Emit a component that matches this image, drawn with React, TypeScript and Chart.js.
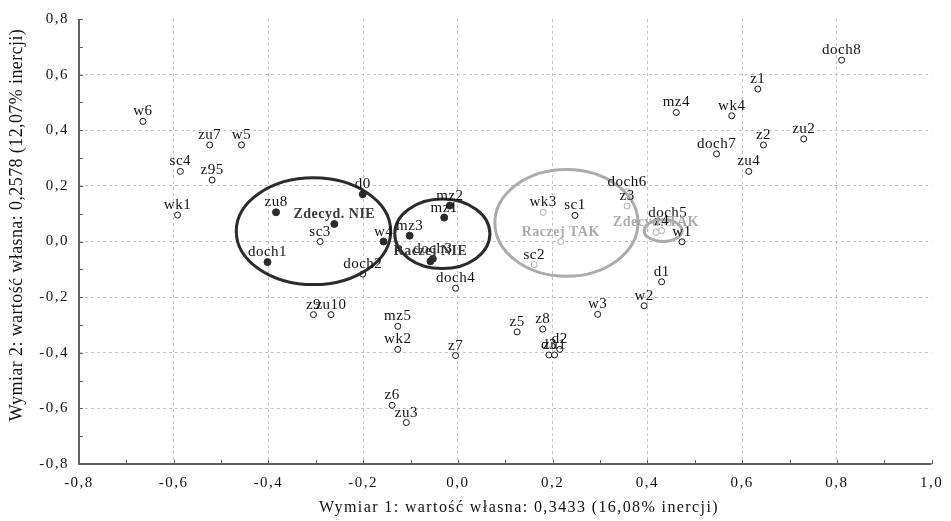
import React, { useEffect, useRef } from "react";
import { Chart, registerables } from "chart.js";

Chart.register(...registerables);

const FONT = "'Liberation Serif', 'Times New Roman', serif";
const DARK = "#2b2b2b";
const GRAY = "#ababab";

// Column categories drawn as open black circles
const openNames = [
  "w6", "zu7", "w5", "sc4", "z95", "wk1", "sc3", "doch2", "doch4", "z9", "zu10",
  "mz5", "wk2", "z7", "z6", "zu3", "z5", "z8", "d3", "zu1", "d2", "w3", "w2",
  "d1", "w1", "sc1", "doch8", "z1", "wk4", "mz4", "z2", "zu2", "doch7", "zu4",
];
const openX = [
  -0.665, -0.524, -0.457, -0.586, -0.519, -0.592, -0.291, -0.201, -0.005, -0.305, -0.268,
  -0.127, -0.127, -0.005, -0.139, -0.109, 0.125, 0.179, 0.192, 0.204, 0.215, 0.295, 0.393,
  0.43, 0.473, 0.247, 0.81, 0.633, 0.578, 0.461, 0.645, 0.73, 0.546, 0.614,
];
const openY = [
  0.432, 0.347, 0.347, 0.252, 0.221, 0.095, 0.0, -0.117, -0.168, -0.263, -0.263,
  -0.305, -0.388, -0.41, -0.589, -0.651, -0.325, -0.315, -0.408, -0.408, -0.388, -0.262, -0.231,
  -0.145, -0.001, 0.094, 0.652, 0.548, 0.452, 0.464, 0.347, 0.369, 0.315, 0.252,
];

// Column categories drawn as open grey circles
const grayNames = ["wk3", "sc2", "doch6", "z3", "z4", "doch5"];
const grayX = [0.18, 0.161, 0.357, 0.357, 0.43, 0.443];
const grayY = [0.105, -0.083, 0.179, 0.127, 0.039, 0.066];

// Column categories drawn as filled circles
const filledNames = ["zu8", "doch1", "d0", "w4", "mz3", "mz2", "mz1", "doch3"];
const filledX = [-0.384, -0.402, -0.201, -0.157, -0.102, -0.017, -0.029, -0.053];
const filledY = [0.105, -0.074, 0.17, 0.0, 0.021, 0.129, 0.086, -0.062];

// Row categories (answers)
const answerDarkNames = ["Zdecyd. NIE", "Raczej NIE"];
const answerDarkX = [-0.261, -0.058];
const answerDarkY = [0.063, -0.071];
const answerGrayNames = ["Raczej TAK", "Zdecyd. TAK"];
const answerGrayX = [0.217, 0.418];
const answerGrayY = [0.0, 0.033];

// Groupings around the answers: centre and radii in axis units
const ringCx = [-0.305, -0.033, 0.229, 0.433];
const ringCy = [0.037, 0.0275, 0.067, 0.039];
const ringRx = [0.163, 0.1005, 0.151, 0.04];
const ringRy = [0.192, 0.125, 0.192, 0.039];
const ringColor = [DARK, DARK, GRAY, GRAY];

const xTitle = "Wymiar 1: wartość własna: 0,3433 (16,08% inercji)";
const yTitle = "Wymiar 2: wartość własna: 0,2578 (12,07% inercji)";

const toPoints = (xs: number[], ys: number[]) => xs.map((x, i) => ({ x, y: ys[i] }));
const fmt = (v: number) => (Math.abs(v) < 1e-9 ? "0,0" : v.toFixed(1).replace(".", ","));

const decor = {
  id: "decor",
  beforeDraw(chart: any) {
    // loose spacing for the tick labels
    chart.ctx.letterSpacing = "1.5px";
  },
  beforeDatasetsDraw(chart: any) {
    const { ctx, chartArea: a, scales } = chart;
    ctx.letterSpacing = "0px";
    const xs = scales.x;
    const ys = scales.y;
    ctx.save();
    ctx.strokeStyle = "#5f5f5f";
    ctx.lineWidth = 2;
    ctx.beginPath();
    ctx.moveTo(a.left, a.top);
    ctx.lineTo(a.left, a.bottom);
    ctx.lineTo(a.right, a.bottom);
    ctx.stroke();
    ctx.lineWidth = 1;
    // inward ticks every 0.1
    for (let i = -8; i <= 10; i++) {
      const px = Math.round(xs.getPixelForValue(i / 10)) + 0.5;
      ctx.beginPath();
      ctx.moveTo(px, a.bottom);
      ctx.lineTo(px, a.bottom - 4);
      ctx.stroke();
    }
    for (let i = -8; i <= 8; i++) {
      const py = Math.round(ys.getPixelForValue(i / 10)) + 0.5;
      ctx.beginPath();
      ctx.moveTo(a.left, py);
      ctx.lineTo(a.left + 4, py);
      ctx.stroke();
    }
    ctx.restore();
  },
  afterDatasetsDraw(chart: any) {
    const { ctx, scales } = chart;
    const xs = scales.x;
    const ys = scales.y;
    ctx.save();
    ctx.lineWidth = 3;
    ringCx.forEach((cx, i) => {
      const px = xs.getPixelForValue(cx);
      const py = ys.getPixelForValue(ringCy[i]);
      const rx = Math.abs(xs.getPixelForValue(cx + ringRx[i]) - px);
      const ry = Math.abs(ys.getPixelForValue(ringCy[i] + ringRy[i]) - py);
      ctx.strokeStyle = ringColor[i];
      ctx.beginPath();
      ctx.ellipse(px, py, rx, ry, 0, 0, Math.PI * 2);
      ctx.stroke();
    });
    ctx.textAlign = "center";
    ctx.textBaseline = "alphabetic";
    ctx.letterSpacing = "0.5px";
    chart.data.datasets.forEach((ds: any, di: number) => {
      const meta = chart.getDatasetMeta(di);
      ctx.font = ds.labelFont;
      ctx.fillStyle = ds.labelColor;
      meta.data.forEach((el: any, j: number) => {
        ctx.fillText(ds.names[j], el.x, el.y - 6);
      });
    });
    ctx.restore();
  },
  afterDraw(chart: any) {
    const { ctx } = chart;
    ctx.save();
    ctx.fillStyle = "#111";
    ctx.textAlign = "center";
    ctx.textBaseline = "middle";
    ctx.font = `16px ${FONT}`;
    ctx.letterSpacing = "1.4px";
    ctx.fillText(xTitle, 519, 508);
    ctx.translate(17, 225);
    ctx.rotate(-Math.PI / 2);
    ctx.font = `18px ${FONT}`;
    ctx.letterSpacing = "0.4px";
    ctx.fillText(yTitle, 0, 0);
    ctx.restore();
    ctx.letterSpacing = "0px";
  },
};

const gridColor = (edgeA: number, edgeB: number) => (c: any) => {
  const v = c.tick ? c.tick.value : 0;
  if (Math.abs(v - edgeA) < 1e-6 || Math.abs(v - edgeB) < 1e-6) return "rgba(0,0,0,0)";
  return "#c4c4c4";
};

export default function App() {
  const ref = useRef<HTMLCanvasElement | null>(null);

  useEffect(() => {
    document.body.style.margin = "0";
    const canvas = ref.current;
    if (!canvas) return;
    const labelFont = `15px ${FONT}`;
    const boldFont = `bold 14px ${FONT}`;
    const chart = new Chart(canvas, {
      type: "scatter",
      data: {
        datasets: [
          {
            names: openNames,
            labelFont,
            labelColor: "#111",
            data: toPoints(openX, openY),
            pointRadius: 3,
            pointBackgroundColor: "#ffffff",
            pointBorderColor: "#111",
            pointBorderWidth: 1,
          },
          {
            names: grayNames,
            labelFont,
            labelColor: "#111",
            data: toPoints(grayX, grayY),
            pointRadius: 3,
            pointBackgroundColor: "#ffffff",
            pointBorderColor: GRAY,
            pointBorderWidth: 1,
          },
          {
            names: filledNames,
            labelFont,
            labelColor: "#111",
            data: toPoints(filledX, filledY),
            pointRadius: 3.5,
            pointBackgroundColor: DARK,
            pointBorderColor: DARK,
            pointBorderWidth: 1,
          },
          {
            names: answerDarkNames,
            labelFont: boldFont,
            labelColor: "#3a3a3a",
            data: toPoints(answerDarkX, answerDarkY),
            pointRadius: 3.5,
            pointBackgroundColor: DARK,
            pointBorderColor: DARK,
            pointBorderWidth: 1,
          },
          {
            names: answerGrayNames,
            labelFont: boldFont,
            labelColor: GRAY,
            data: toPoints(answerGrayX, answerGrayY),
            pointRadius: 3,
            pointBackgroundColor: "#ffffff",
            pointBorderColor: GRAY,
            pointBorderWidth: 1,
          },
        ] as any,
      },
      options: {
        animation: false,
        responsive: false,
        devicePixelRatio: 1,
        events: [],
        layout: { padding: { left: 0, top: 16, right: 12, bottom: 0 } },
        plugins: { legend: { display: false }, tooltip: { enabled: false } },
        scales: {
          x: {
            type: "linear",
            min: -0.8,
            max: 1.0,
            afterFit: (s: any) => {
              s.height = 57;
            },
            ticks: {
              stepSize: 0.2,
              autoSkip: false,
              maxRotation: 0,
              padding: 10,
              color: "#111",
              font: { family: FONT, size: 15 },
              callback: (v: any) => fmt(Number(v)),
            },
            grid: { drawTicks: false, color: gridColor(-0.8, 1.0), lineWidth: 1 },
            border: { display: false, dash: [3, 3] },
          },
          y: {
            type: "linear",
            min: -0.8,
            max: 0.8,
            afterFit: (s: any) => {
              s.width = 79;
            },
            ticks: {
              stepSize: 0.2,
              autoSkip: false,
              padding: 10,
              color: "#111",
              font: { family: FONT, size: 15 },
              callback: (v: any) => fmt(Number(v)),
            },
            grid: { drawTicks: false, color: gridColor(-0.8, 0.8), lineWidth: 1 },
            border: { display: false, dash: [3, 3] },
          },
        },
      } as any,
      plugins: [decor],
    });
    return () => chart.destroy();
  }, []);

  return (
    <div style={{ width: 951, height: 521, position: "relative" }}>
      <canvas ref={ref} width={951} height={521} style={{ width: 951, height: 521, display: "block" }} />
    </div>
  );
}
